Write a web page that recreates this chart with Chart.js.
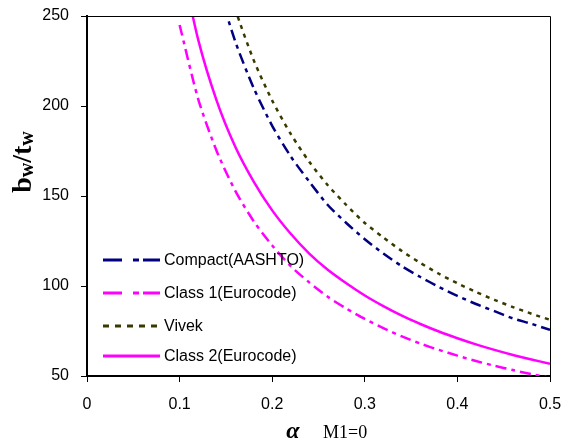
<!DOCTYPE html>
<html>
<head>
<meta charset="utf-8">
<script src="https://cdn.jsdelivr.net/npm/chart.js@4.4.0/dist/chart.umd.min.js"></script>
<style>
html, body { margin: 0; padding: 0; background: #fff; }
</style>
</head>
<body>
<canvas id="bwChart" width="563" height="445"></canvas>
<script>
// alpha values (x axis)
const alpha = [0.10, 0.12, 0.14, 0.16, 0.18, 0.20, 0.22, 0.24, 0.26, 0.28, 0.30,
               0.32, 0.34, 0.36, 0.38, 0.40, 0.42, 0.44, 0.46, 0.48, 0.50];

// bw/tw limits
const compactAashto = [378, 315, 270, 236, 210, 189, 172, 158, 145, 135, 126,
                       118, 111, 105, 99.5, 94.5, 90, 86, 82, 79, 75.6];
const class1Euro    = [245, 204, 175, 153, 136, 122.5, 111, 102, 94, 87.5, 81.7,
                       76.6, 72, 68, 64.5, 61.3, 58.3, 55.7, 53.3, 51, 49];
const vivek         = [406, 338, 290, 254, 225.5, 203, 184.5, 169, 156, 145, 135,
                       127, 119.4, 112.8, 106.8, 101.5, 96.7, 92.3, 88.3, 84.6, 81.2];
const class2Euro    = [284, 237, 203, 177.5, 158, 142, 129, 118, 109, 101.5, 94.7,
                       88.8, 83.5, 78.9, 74.7, 71, 67.6, 64.5, 61.7, 59.2, 56.8];

const xTicks = [0, 0.1, 0.2, 0.3, 0.4, 0.5];
const yTicks = [50, 100, 150, 200, 250];

function pts(values) {
    return alpha.map((a, i) => ({ x: a, y: values[i] }));
}

// legend, frame and axis titles drawn on the canvas
const extras = {
    id: 'extras',
    afterDraw(chart) {
        const ctx = chart.ctx;
        const a = chart.chartArea;
        ctx.save();

        // top + right frame
        ctx.strokeStyle = '#000';
        ctx.lineWidth = 1;
        ctx.beginPath();
        ctx.moveTo(a.left, a.top + 0.5);
        ctx.lineTo(a.right + 0.5, a.top + 0.5);
        ctx.lineTo(a.right + 0.5, a.bottom);
        ctx.stroke();

        // legend inside plot
        const rows = [260, 293, 326, 356];
        chart.data.datasets.forEach((ds, i) => {
            const y = rows[i];
            ctx.strokeStyle = ds.borderColor;
            ctx.lineWidth = 3;
            ctx.setLineDash(ds.legendDash || []);
            ctx.beginPath();
            ctx.moveTo(103, y);
            ctx.lineTo(160, y);
            ctx.stroke();
            ctx.setLineDash([]);
            ctx.fillStyle = '#000';
            ctx.font = '16px "Liberation Sans", Arial, sans-serif';
            ctx.textBaseline = 'middle';
            ctx.textAlign = 'left';
            ctx.fillText(ds.label, 164, y + 1);
        });

        // y title  b_w / t_w
        ctx.save();
        ctx.translate(31, 162);
        ctx.rotate(-Math.PI / 2);
        const big = 'bold 28px "Liberation Serif", "Times New Roman", serif';
        const sub = 'bold 20px "Liberation Serif", "Times New Roman", serif';
        const parts = [['b', big, 0], ['w', sub, 2], ['/t', big, 0], ['w', sub, 2]];
        let total = 0;
        parts.forEach(p => { ctx.font = p[1]; total += ctx.measureText(p[0]).width; });
        let x = -total / 2;
        ctx.textBaseline = 'alphabetic';
        ctx.textAlign = 'left';
        ctx.fillStyle = '#000';
        parts.forEach(p => {
            ctx.font = p[1];
            ctx.fillText(p[0], x, p[2]);
            x += ctx.measureText(p[0]).width;
        });
        ctx.restore();

        // x title
        ctx.fillStyle = '#000';
        ctx.textBaseline = 'alphabetic';
        ctx.textAlign = 'center';
        ctx.font = 'bold italic 24px "Liberation Serif", "Times New Roman", serif';
        ctx.fillText('α', 293, 438);
        ctx.textAlign = 'left';
        ctx.font = '18px "Liberation Serif", "Times New Roman", serif';
        ctx.fillText('M1=0', 323, 438);

        ctx.restore();
    }
};

new Chart(document.getElementById('bwChart'), {
    type: 'line',
    data: {
        datasets: [{
                label: 'Compact(AASHTO)',
                data: pts(compactAashto),
                borderColor: '#000080',
                borderWidth: 2.5,
                borderDash: [11, 5, 4, 5],
                legendDash: [19, 11, 6, 4]
            },
            {
                label: 'Class 1(Eurocode)',
                data: pts(class1Euro),
                borderColor: '#ff00ff',
                borderWidth: 2.5,
                borderDash: [11, 5, 4, 5],
                legendDash: [19, 11, 6, 4]
            },
            {
                label: 'Vivek',
                data: pts(vivek),
                borderColor: '#3a3a00',
                borderWidth: 2.5,
                borderDash: [4, 5],
                legendDash: [6, 6]
            },
            {
                label: 'Class 2(Eurocode)',
                data: pts(class2Euro),
                borderColor: '#ff00ff',
                borderWidth: 2.5
            }]
    },
    options: {
        responsive: false,
        animation: false,
        devicePixelRatio: 1,
        layout: { padding: { left: 0, right: 13, top: 16, bottom: 0 } },
        elements: {
            point: { radius: 0 },
            line: { tension: 0.25 }
        },
        plugins: {
            legend: { display: false },
            tooltip: { enabled: false }
        },
        scales: {
            x: {
                type: 'linear',
                min: 0,
                max: 0.5,
                afterFit: s => {
                    s.height = 69;
                    s.paddingLeft = 0;
                    s.paddingRight = 0;
                },
                afterBuildTicks: s => { s.ticks = xTicks.map(v => ({ value: v })); },
                ticks: {
                    color: '#000',
                    font: { family: '"Liberation Sans", Arial, sans-serif', size: 16 },
                    padding: 13,
                    maxRotation: 0
                },
                grid: { drawOnChartArea: false, tickLength: 6, color: '#000', lineWidth: 1 },
                border: { color: '#000', width: 2 }
            },
            y: {
                min: 50,
                max: 250,
                afterFit: s => {
                    s.width = 87;
                    s.paddingTop = 0;
                    s.paddingBottom = 0;
                },
                afterBuildTicks: s => { s.ticks = yTicks.map(v => ({ value: v })); },
                ticks: {
                    color: '#000',
                    font: { family: '"Liberation Sans", Arial, sans-serif', size: 16 },
                    padding: 12
                },
                grid: { drawOnChartArea: false, tickLength: 6, color: '#000', lineWidth: 1 },
                border: { color: '#000', width: 2 }
            }
        }
    },
    plugins: [extras]
});
</script>
</body>
</html>
